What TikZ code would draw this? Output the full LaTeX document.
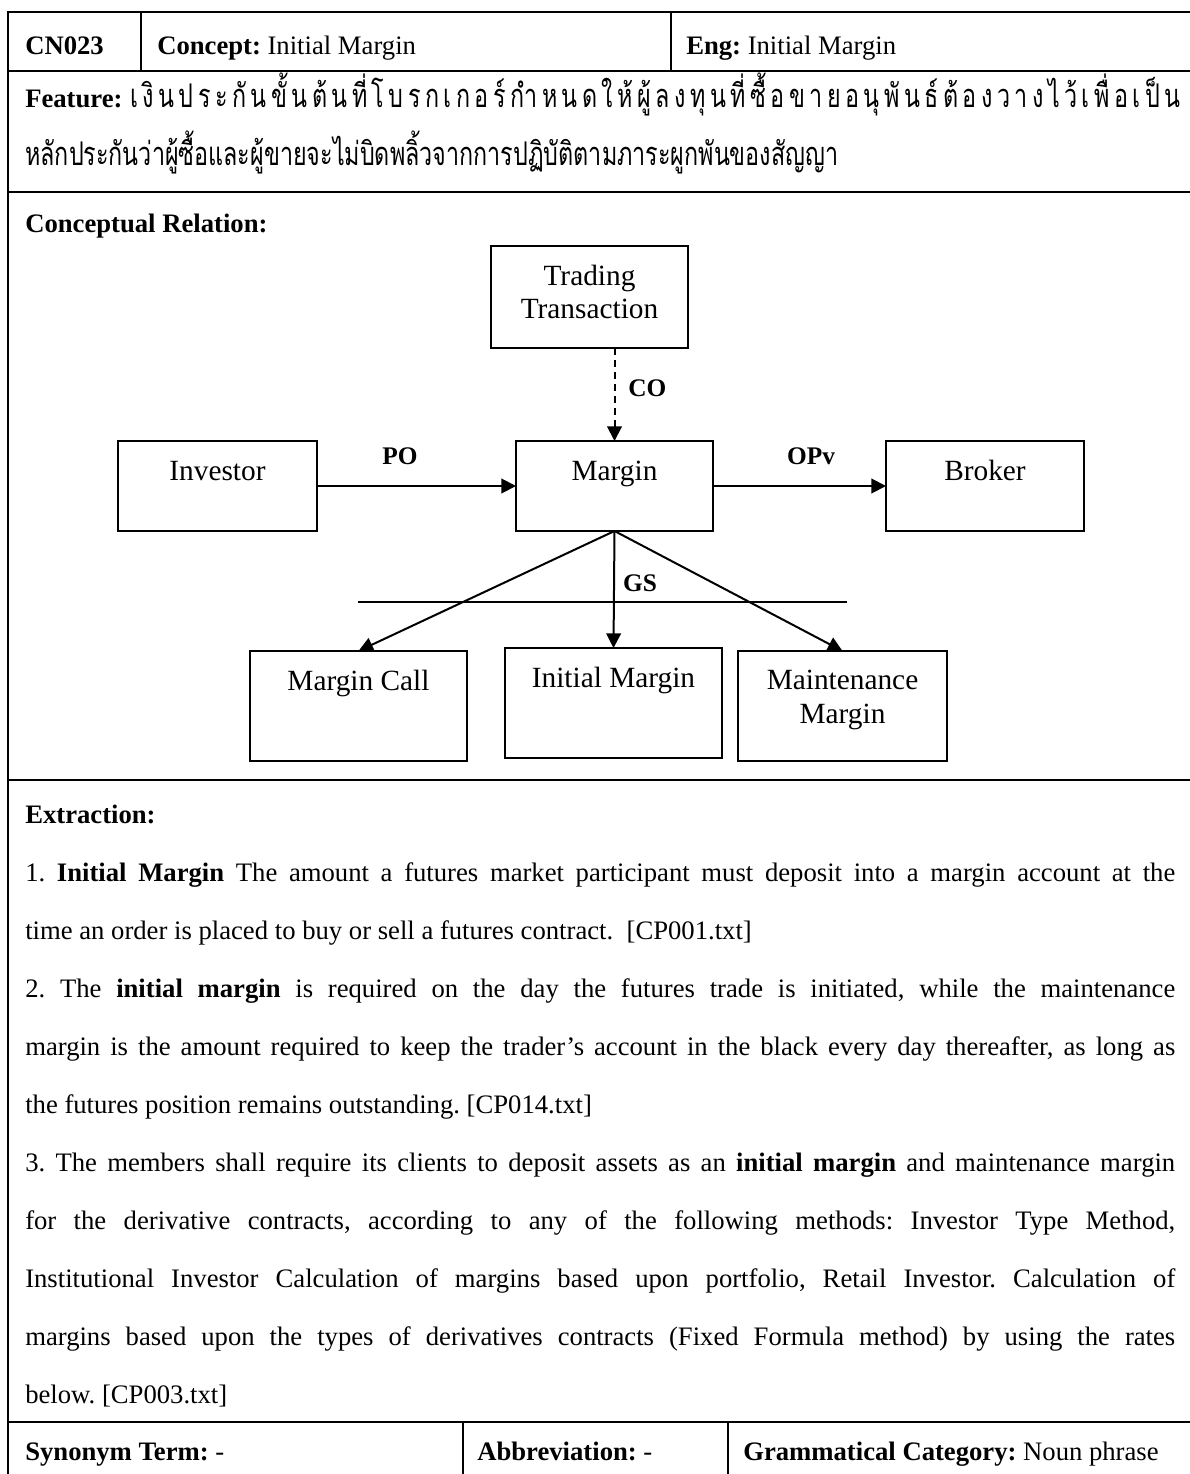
\documentclass[tikz,border=0pt]{standalone}
\usepackage{fontspec}
\setmainfont{Liberation Serif}
\newfontfamily\thaifont[Script=Thai]{Loma}
\usetikzlibrary{arrows.meta}
\newsavebox\thmeasure
\newcommand\thg{\hfil}
\newcommand\thaisz{\thaifont\fontsize{\thsize pt}{\thsize pt}\selectfont}
% Thai text is set a little taller than its natural shape
\newcommand\thaitall[1]{\scalebox{1}[1.4]{#1}}
\frenchspacing
\begin{document}%
% size the Thai font so that the second feature line spans 813px
\sbox\thmeasure{\thaifont\fontsize{10pt}{12pt}\selectfont หลักประกันว่าผู้ซื้อและผู้ขายจะไม่บิดพลิ้วจากการปฏิบัติตามภาระผูกพันของสัญญา}%
\pgfmathsetmacro\thsize{10*609.75/\the\wd\thmeasure}%
\begin{tikzpicture}[x=0.75pt,y=-0.75pt,
  tbl/.style={line width=1.5pt},
  coldiv/.style={line width=1.2pt},
  cbox/.style 2 args={draw, line width=1.25pt, inner sep=0pt, outer sep=0pt,
    minimum width=#1*0.75pt, minimum height=#2*0.75pt},
  body/.style={font=\fontsize{20pt}{24pt}\selectfont, inner sep=0pt, anchor=base west},
  dtxt/.style={font=\fontsize{22pt}{26pt}\selectfont, inner sep=0pt, anchor=base},
  rel/.style={font=\bfseries\fontsize{19pt}{22pt}\selectfont, inner sep=0pt, anchor=base},
  arr/.style={line width=1.5pt, -{Triangle[length=11pt,width=11pt]}},
  thai/.style={font=\thaisz, inner sep=0pt, anchor=base west}
]
\useasboundingbox (0,0) rectangle (1189,1474);

% ---------- table frame ----------
\draw[tbl] (8,1490) -- (8,12) -- (1200,12);
\draw[tbl] (8,71) -- (1200,71);
\draw[tbl] (8,192) -- (1200,192);
\draw[tbl] (8,780) -- (1200,780);
\draw[tbl] (8,1422) -- (1200,1422);
\draw[coldiv] (141,12) -- (141,71);
\draw[coldiv] (671,12) -- (671,71);
\draw[coldiv] (463,1422) -- (463,1490);
\draw[coldiv] (728,1422) -- (728,1490);

% ---------- header row ----------
\node[body] (cn) at (25,54) {\textbf{CN023}};
\node[body] (concept) at (157,54) {\textbf{Concept:} Initial Margin};
\node[body] (eng) at (686,54) {\textbf{Eng:} Initial Margin};

% ---------- feature ----------
\node[body] (feat) at (25,107) {\textbf{Feature:}};
\node[thai] (th1) at (130,107) {\thaitall{\hbox to 787.5pt{เ\thg งิ\thg น\thg ป\thg ร\thg ะ\thg กั\thg น\thg ขั้\thg น\thg ต้\thg น\thg ที่\thg โ\thg บ\thg ร\thg ก\thg เ\thg ก\thg อ\thg ร์\thg กำ\thg ห\thg น\thg ด\thg ใ\thg ห้\thg ผู้\thg ล\thg ง\thg ทุ\thg น\thg ที่\thg ซื้\thg อ\thg ข\thg า\thg ย\thg อ\thg นุ\thg พั\thg น\thg ธ์\thg ต้\thg อ\thg ง\thg ว\thg า\thg ง\thg ไ\thg ว้\thg เ\thg พื่\thg อ\thg เ\thg ป็\thg น}}};
\node[thai] (th2) at (25,165) {\thaitall{หลักประกันว่าผู้ซื้อและผู้ขายจะไม่บิดพลิ้วจากการปฏิบัติตามภาระผูกพันของสัญญา}};

% ---------- conceptual relation ----------
\node[body] (crel) at (25,232) {\textbf{Conceptual Relation:}};

\node[cbox={197}{102}] (tt)  at (589.5,297) {};
\node[cbox={199}{90}]  (inv) at (217.5,486) {};
\node[cbox={197}{90}]  (mar) at (614.5,486) {};
\node[cbox={198}{90}]  (brk) at (985,486) {};
\node[cbox={217}{110}] (mc)  at (358.5,706) {};
\node[cbox={217}{110}] (im)  at (613.5,703) {};
\node[cbox={209}{110}] (mm)  at (842.5,706) {};

\node[dtxt] (ttA) at (589.5,285) {Trading};
\node[dtxt] (ttB) at (589.5,318) {Transaction};
\node[dtxt] (invT) at (217.5,480) {Investor};
\node[dtxt] (marT) at (614.5,480) {Margin};
\node[dtxt] (brkT) at (985,480) {Broker};
\node[dtxt] (mcT) at (358.5,690) {Margin Call};
\node[dtxt] (imT) at (613.5,687) {Initial Margin};
\node[dtxt] (mmA) at (842.5,689) {Maintenance};
\node[dtxt] (mmB) at (842.5,723) {Margin};

\draw[arr, dash pattern=on 5.5pt off 3.5pt] (tt.south -| mar.north) -- (mar.north);
\draw[arr] (inv.east) -- (mar.west);
\draw[arr] (mar.east) -- (brk.west);
\draw[arr] (mar.south) -- (mc.north);
\draw[arr] (mar.south) -- (im.north);
\draw[arr] (mar.south) -- (mm.north);

\coordinate (gsL) at (358,602);
\coordinate (gsR) at (847,602);
\draw[line width=1pt] (gsL) -- (gsR);

\node[rel, anchor=base west] (co) at (628,396) {CO};
\node[rel] (po) at (400,464) {PO};
\node[rel] (opv) at (811,464) {OPv};
\node[rel] (gs) at (640,591) {GS};

% ---------- extraction ----------
\node[body] (ext) at (25,823) {\textbf{Extraction:}};
\node[body] (e1) at (25,881) {\makebox[862.5pt][s]{1. \textbf{Initial Margin} The amount a futures market participant must deposit into a margin account at the}};
\node[body] (e2) at (25,939) {time an order is placed to buy or sell a futures contract.\ \ [CP001.txt]};
\node[body] (e3) at (25,997) {\makebox[862.5pt][s]{2. The \textbf{initial margin} is required on the day the futures trade is initiated, while the maintenance}};
\node[body] (e4) at (25,1055) {\makebox[862.5pt][s]{margin is the amount required to keep the trader’s account in the black every day thereafter, as long as}};
\node[body] (e5) at (25,1113) {the futures position remains outstanding. [CP014.txt]};
\node[body] (e6) at (25,1171) {\makebox[862.5pt][s]{3. The members shall require its clients to deposit assets as an \textbf{initial margin} and maintenance margin}};
\node[body] (e7) at (25,1229) {\makebox[862.5pt][s]{for the derivative contracts, according to any of the following methods: Investor Type Method,}};
\node[body] (e8) at (25,1287) {\makebox[862.5pt][s]{Institutional Investor Calculation of margins based upon portfolio, Retail Investor. Calculation of}};
\node[body] (e9) at (25,1345) {\makebox[862.5pt][s]{margins based upon the types of derivatives contracts (Fixed Formula method) by using the rates}};
\node[body] (e10) at (25,1403) {below. [CP003.txt]};

% ---------- bottom row ----------
\node[body] (syn) at (25,1460) {\textbf{Synonym Term:} -};
\node[body] (abbr) at (477,1460) {\textbf{Abbreviation:} -};
\node[body] (gram) at (743,1460) {\textbf{Grammatical Category:} Noun phrase};
\end{tikzpicture}
\end{document}
